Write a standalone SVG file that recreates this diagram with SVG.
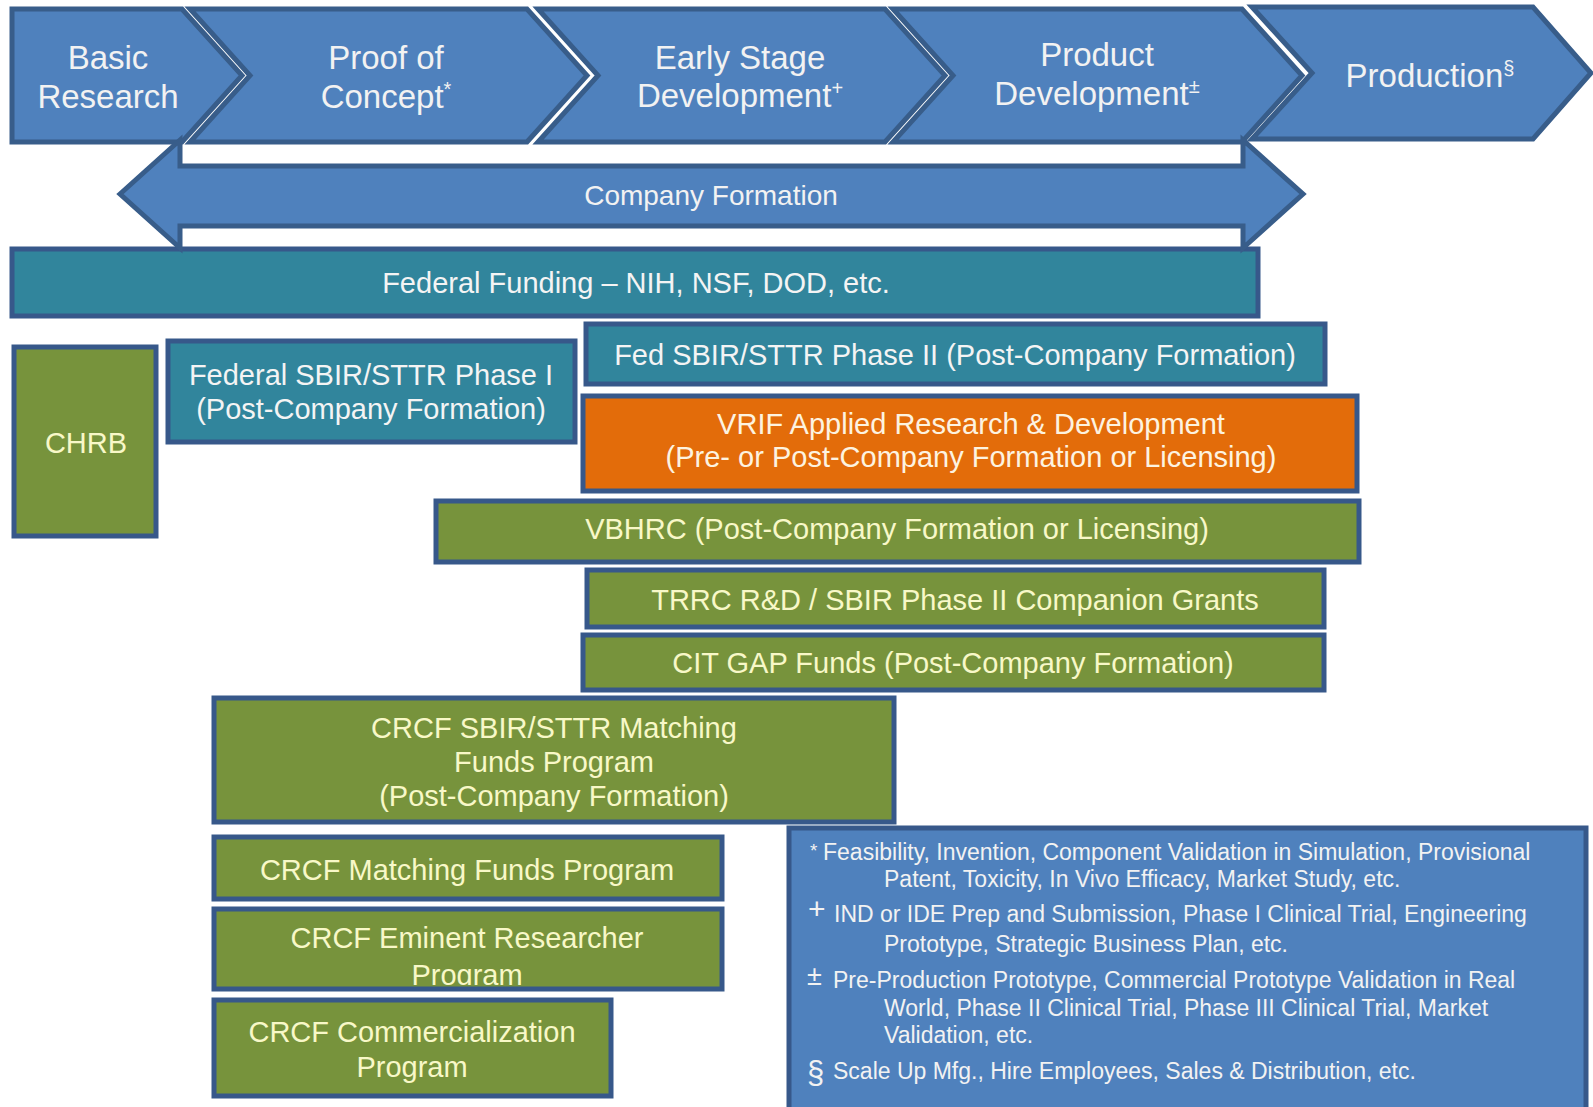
<svg xmlns="http://www.w3.org/2000/svg" width="1593" height="1107" viewBox="0 0 1593 1107">
<style>
text{font-family:"Liberation Sans",Arial,sans-serif;}
.chev{fill:#4F81BD;stroke:#385D8A;stroke-width:5;stroke-linejoin:miter;}
.ct{font-size:33px;fill:#F2F2F2;text-anchor:middle;}
.box{stroke:#37588A;stroke-width:5;}
.teal{fill:#31859C;}
.green{fill:#77933C;}
.orange{fill:#E36C0A;}
.blue{fill:#4F81BD;}
.bt{font-size:29px;text-anchor:middle;}
.wt{fill:#F4F4F4;}
.yt{fill:#F8F8C8;}
.ot{fill:#FDF3E0;}
.ft{font-size:23px;fill:#F2F2F2;}
.sup{font-size:20px;}
</style>
<defs>
<clipPath id="clipEm"><rect x="214" y="909" width="508" height="76"/></clipPath>
</defs>
<rect width="1593" height="1107" fill="#FFFFFF"/>

<g id="stage-basic-research">
<polygon class="chev" points="12,9 182,9 242,75.5 182,142 12,142"/>
<text class="ct" x="108" y="69">Basic</text>
<text class="ct" x="108" y="108">Research</text>
</g>
<g id="stage-proof-of-concept">
<polygon class="chev" points="190,9 527,9 587,75.5 527,142 190,142 250,75.5"/>
<text class="ct" x="386" y="69">Proof of</text>
<text class="ct" x="386" y="108">Concept<tspan class="sup" dy="-12">*</tspan></text>
</g>
<g id="stage-early-stage">
<polygon class="chev" points="538,9 885,9 945,75.5 885,142 538,142 598,75.5"/>
<text class="ct" x="740" y="69">Early Stage</text>
<text class="ct" x="740" y="107">Development<tspan class="sup" dy="-12">+</tspan></text>
</g>
<g id="stage-product-development">
<polygon class="chev" points="893,9 1242,9 1302,75.5 1242,142 893,142 953,75.5"/>
<text class="ct" x="1097" y="66">Product</text>
<text class="ct" x="1097" y="105">Development<tspan class="sup" dy="-12">±</tspan></text>
</g>
<g id="stage-production">
<polygon class="chev" points="1252,7 1533,7 1591,73 1533,139 1252,139 1312,73"/>
<text class="ct" x="1430" y="87">Production<tspan class="sup" dy="-12">§</tspan></text>
</g>

<g id="federal-funding">
<rect class="box teal" x="12" y="249" width="1246" height="67"/>
<text class="bt wt" x="636" y="293">Federal Funding – NIH, NSF, DOD, etc.</text>
</g>

<g id="company-formation">
<polygon class="chev" points="120,194 180,140 180,166 1243,166 1243,140 1303,194 1243,248 1243,226 180,226 180,248"/>
<text x="711" y="205" font-size="28" fill="#F2F2F2" text-anchor="middle">Company Formation</text>
</g>

<g id="chrb">
<rect class="box green" x="14" y="347" width="142" height="189"/>
<text class="bt yt" x="86" y="453">CHRB</text>
</g>

<g id="sbir-phase1">
<rect class="box teal" x="168" y="341" width="407" height="101"/>
<text class="bt wt" x="371" y="385">Federal SBIR/STTR Phase I</text>
<text class="bt wt" x="371" y="419">(Post-Company Formation)</text>
</g>

<g id="sbir-phase2">
<rect class="box teal" x="586" y="324" width="739" height="60"/>
<text class="bt wt" x="955" y="365">Fed SBIR/STTR Phase II (Post-Company Formation)</text>
</g>

<g id="vrif">
<rect class="box orange" x="583" y="396" width="774" height="95"/>
<text class="bt ot" x="971" y="434">VRIF Applied Research &amp; Development</text>
<text class="bt ot" x="971" y="467">(Pre- or Post-Company Formation or Licensing)</text>
</g>

<g id="vbhrc">
<rect class="box green" x="436" y="501" width="923" height="61"/>
<text class="bt yt" x="897" y="539">VBHRC (Post-Company Formation or Licensing)</text>
</g>

<g id="trrc">
<rect class="box green" x="587" y="570" width="737" height="57"/>
<text class="bt yt" x="955" y="610">TRRC R&amp;D / SBIR Phase II Companion Grants</text>
</g>

<g id="cit-gap">
<rect class="box green" x="583" y="635" width="741" height="55"/>
<text class="bt yt" x="953" y="673">CIT GAP Funds (Post-Company Formation)</text>
</g>

<g id="crcf-sbir-matching">
<rect class="box green" x="214" y="698" width="680" height="124"/>
<text class="bt yt" x="554" y="738">CRCF SBIR/STTR Matching</text>
<text class="bt yt" x="554" y="772">Funds Program</text>
<text class="bt yt" x="554" y="806">(Post-Company Formation)</text>
</g>

<g id="crcf-matching-funds">
<rect class="box green" x="214" y="837" width="508" height="62"/>
<text class="bt yt" x="467" y="880">CRCF Matching Funds Program</text>
</g>

<g id="crcf-eminent">
<rect class="green" x="214" y="909" width="508" height="80"/>
<g clip-path="url(#clipEm)">
<text class="bt yt" x="467" y="948">CRCF Eminent Researcher</text>
<text class="bt yt" x="467" y="985">Program</text>
</g>
<rect class="box" fill="none" x="214" y="909" width="508" height="80"/>
</g>

<g id="crcf-commercialization">
<rect class="box green" x="214" y="1000" width="397" height="96"/>
<text class="bt yt" x="412" y="1042">CRCF Commercialization</text>
<text class="bt yt" x="412" y="1077">Program</text>
</g>

<g id="footnotes">
<rect class="box blue" x="789" y="828" width="797" height="290"/>
<text class="ft" x="810" y="857" style="font-size:19px">*</text>
<text class="ft" x="823" y="860">Feasibility, Invention, Component Validation in Simulation, Provisional</text>
<text class="ft" x="884" y="887">Patent, Toxicity, In Vivo Efficacy, Market Study, etc.</text>
<text class="ft" x="808" y="919" style="font-size:30px">+</text>
<text class="ft" x="834" y="922">IND or IDE Prep and Submission, Phase I Clinical Trial, Engineering</text>
<text class="ft" x="884" y="952">Prototype, Strategic Business Plan, etc.</text>
<text class="ft" x="807" y="985" style="font-size:27px">±</text>
<text class="ft" x="833" y="988">Pre-Production Prototype, Commercial Prototype Validation in Real</text>
<text class="ft" x="884" y="1016">World, Phase II Clinical Trial, Phase III Clinical Trial, Market</text>
<text class="ft" x="884" y="1043">Validation, etc.</text>
<text class="ft" x="807" y="1083" style="font-size:31px">§</text>
<text class="ft" x="833" y="1079">Scale Up Mfg., Hire Employees, Sales &amp; Distribution, etc.</text>
</g>

<g id="connectors"></g>
</svg>
